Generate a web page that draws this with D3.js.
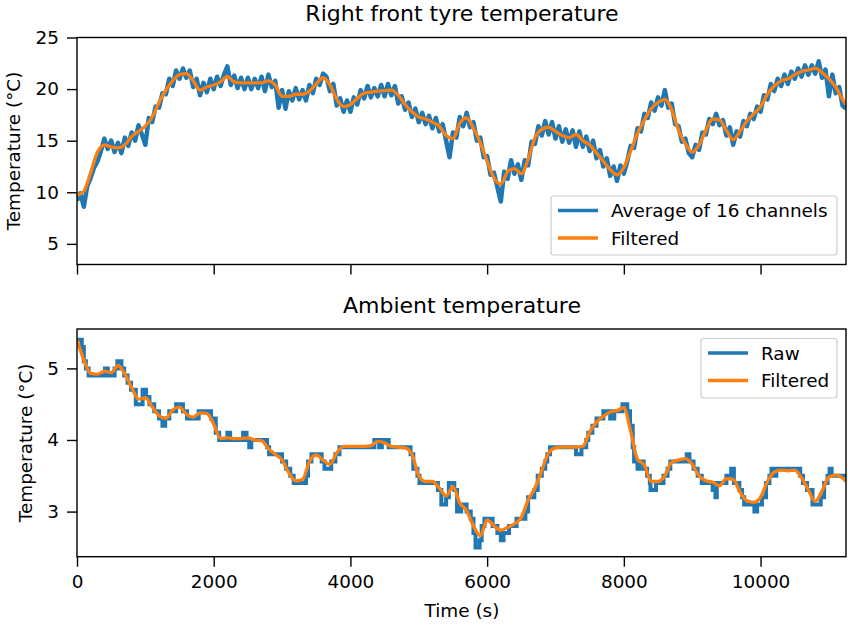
<!DOCTYPE html>
<html>
<head>
<meta charset="utf-8">
<script src="https://cdn.jsdelivr.net/npm/d3@7/dist/d3.min.js"></script>
<style>
  body { margin: 0; background: #fff; }
  text { font-family: "DejaVu Sans", sans-serif; fill: #000; }
</style>
</head>
<body>
<svg id="chart" width="848" height="627"></svg>
<script>
// tyre: raw average sampled every 50 s, filtered every 100 s (+ last point)
var tyreRaw = [
  9.2, 9.9, 8.6, 10.6, 11.4, 12.4, 13.0, 14.0, 15.2, 14.2,
  15.0, 13.9, 14.8, 13.8, 15.3, 14.5, 15.8, 15.0, 16.5, 15.6,
  14.6, 17.2, 16.8, 18.3, 18.2, 19.6, 19.5, 21.0, 20.3, 21.8,
  21.0, 22.0, 21.1, 21.8, 20.2, 21.0, 19.4, 20.6, 19.7, 21.0,
  20.0, 21.2, 20.3, 21.4, 22.2, 20.4, 21.3, 20.1, 21.1, 20.0,
  21.1, 20.0, 21.0, 20.1, 21.2, 19.8, 21.4, 20.2, 20.8, 18.2,
  19.9, 18.1, 19.8, 18.9, 20.1, 19.0, 19.9, 18.9, 20.4, 19.6,
  21.0, 20.4, 21.5, 21.2, 19.8, 20.5, 18.4, 19.1, 17.8, 18.9,
  17.8, 19.2, 18.5, 19.9, 19.1, 20.3, 19.2, 20.1, 19.3, 20.4,
  19.3, 20.5, 19.4, 20.3, 18.6, 19.3, 18.0, 18.7, 17.3, 18.1,
  16.8, 17.7, 16.6, 17.4, 16.2, 17.2, 15.9, 16.6, 15.0, 13.4,
  15.8, 15.3, 17.3, 16.4, 17.7, 16.3, 16.8, 15.0, 15.3, 13.4,
  13.5, 11.7, 11.9, 10.5, 9.1, 12.0, 11.3, 13.1, 11.8, 12.7,
  11.2, 13.1, 12.6, 14.9, 14.7, 16.4, 15.5, 16.9, 15.6, 16.8,
  15.2, 16.4, 14.9, 16.1, 14.8, 16.0, 14.4, 15.9, 14.4, 15.4,
  14.0, 15.0, 13.3, 14.1, 12.5, 13.3, 11.6, 12.5, 11.1, 12.6,
  11.8, 13.0, 14.5, 14.3, 16.2, 15.9, 17.6, 17.2, 18.7, 17.9,
  19.2, 18.4, 19.9, 18.2, 18.6, 16.6, 16.4, 14.9, 15.2, 13.8,
  13.4, 14.6, 14.1, 15.8, 15.6, 17.1, 16.6, 17.6, 16.5, 17.0,
  15.5, 16.3, 14.6, 15.9, 15.4, 16.9, 16.4, 17.6, 17.1, 18.3,
  17.8, 19.4, 19.0, 20.5, 19.8, 21.0, 20.3, 21.4, 20.5, 21.7,
  21.0, 22.0, 21.2, 22.3, 21.4, 22.3, 21.5, 22.7, 21.1, 21.9,
  19.3, 21.4, 19.6, 20.2, 18.4, 18.1
];
var tyreFilt = [
  9.7, 10.1, 11.9, 13.9, 14.6, 14.4, 14.3, 14.6, 15.4, 15.9,
  16.4, 17.3, 18.7, 19.9, 20.8, 21.4, 21.5, 20.8, 19.9, 20.2,
  20.4, 20.7, 21.2, 20.7, 20.6, 20.6, 20.6, 20.6, 20.8, 20.4,
  19.3, 19.3, 19.5, 19.5, 19.8, 20.5, 21.1, 20.4, 19.0, 18.3,
  18.5, 19.1, 19.6, 19.7, 19.8, 19.85, 19.9, 19.4, 18.5, 17.8,
  17.3, 17.1, 16.8, 16.4, 15.5, 15.2, 16.7, 17.2, 16.2, 14.8,
  13.0, 11.4, 10.8, 12.0, 12.3, 11.8, 13.2, 15.3, 16.1, 16.3,
  15.9, 15.5, 15.3, 15.6, 15.0, 14.6, 13.8, 13.0, 12.2, 11.7,
  12.4, 14.0, 15.7, 17.0, 18.1, 18.7, 19.0, 18.0, 16.0, 14.7,
  13.9, 14.6, 16.0, 17.1, 17.0, 16.0, 15.1, 15.9, 16.9, 17.6,
  18.3, 19.5, 20.3, 20.8, 21.0, 21.4, 21.7, 21.85, 22.0, 21.6,
  21.0, 20.2, 19.0, 18.5
];

// ambient: raw as change points (0.1 °C steps), filtered every 100 s (+ last point)
var ambRawTimes = [
  0, 70, 100, 130, 170, 410, 450, 550, 590, 650, 690, 740, 790, 860, 960, 1010,
  1060, 1130, 1200, 1250, 1290, 1350, 1450, 1550, 1610, 1780, 1960, 2030, 2080,
  2200, 2240, 2430, 2480, 2520, 2550, 2780, 2810, 3000, 3060, 3120, 3170, 3350,
  3380, 3430, 3580, 3620, 3720, 3780, 3840, 4350, 4420, 4460, 4560, 4880, 4920,
  4980, 5010, 5280, 5330, 5400, 5440, 5520, 5560, 5620, 5700, 5760, 5800, 5830,
  5890, 5920, 5960, 6080, 6150, 6200, 6240, 6320, 6430, 6560, 6600, 6690, 6740,
  6800, 6850, 6880, 6920, 7300, 7380, 7450, 7480, 7540, 7600, 7700, 7800, 7860,
  7980, 8050, 8090, 8130, 8150, 8200, 8230, 8290, 8340, 8380, 8390, 8470, 8580,
  8640, 8680, 8920, 8960, 9020, 9080, 9140, 9300, 9340, 9360, 9500, 9570, 9610,
  9690, 9730, 9760, 9910, 9950, 10020, 10080, 10130, 10160, 10200, 10230, 10580,
  10620, 10680, 10760, 10880, 10930, 10980, 11010, 11040, 11250
];
var ambRawValues = [
  5.4, 5.3, 5.1, 5.0, 4.9, 5.0, 4.9, 5.0, 5.1, 5.0, 4.9, 4.8, 4.7, 4.5, 4.7, 4.6,
  4.5, 4.4, 4.3, 4.2, 4.3, 4.4, 4.5, 4.4, 4.3, 4.4, 4.3, 4.1, 4.0,
  4.1, 4.0, 4.1, 4.0, 3.9, 4.0, 3.9, 3.8, 3.7, 3.6, 3.5, 3.4, 3.5,
  3.7, 3.8, 3.7, 3.6, 3.7, 3.8, 3.9, 4.0, 3.9, 4.0, 3.9, 3.8, 3.6,
  3.5, 3.4, 3.3, 3.1, 3.2, 3.4, 3.3, 3.0, 3.1, 3.0, 2.9, 2.7, 2.5,
  2.6, 2.8, 2.9, 2.8, 2.7, 2.6, 2.7, 2.8, 2.9, 3.0, 3.2, 3.3, 3.5,
  3.6, 3.7, 3.8, 3.9, 3.8, 3.9, 4.0, 4.1, 4.2, 4.3, 4.4, 4.3, 4.4,
  4.5, 4.4, 4.2, 3.9, 3.7, 3.6, 3.7, 3.6, 3.5, 3.4, 3.3, 3.4, 3.5,
  3.6, 3.7, 3.8, 3.7, 3.6, 3.5, 3.4, 3.3, 3.2, 3.4, 3.5, 3.6, 3.4,
  3.3, 3.2, 3.1, 3.0, 3.1, 3.2, 3.4, 3.5, 3.6, 3.5, 3.6, 3.5,
  3.4, 3.3, 3.1, 3.2, 3.4, 3.5, 3.6, 3.5, 3.5
];
var ambFilt = [
  5.40, 5.12, 4.93, 4.92, 4.96, 4.94, 5.04, 4.92, 4.73, 4.57,
  4.59, 4.46, 4.34, 4.30, 4.42, 4.46, 4.36, 4.32, 4.38, 4.37,
  4.22, 4.02, 4.03, 4.02, 4.02, 4.03, 4.00, 3.99, 3.88, 3.80,
  3.72, 3.54, 3.43, 3.45, 3.70, 3.79, 3.72, 3.66, 3.82, 3.91,
  3.91, 3.91, 3.91, 3.92, 3.98, 3.96, 3.91, 3.90, 3.89, 3.80,
  3.50, 3.42, 3.42, 3.33, 3.22, 3.35, 3.12, 3.01, 2.80, 2.66,
  2.88, 2.80, 2.74, 2.78, 2.83, 2.92, 3.16, 3.33, 3.58, 3.82,
  3.89, 3.90, 3.90, 3.90, 3.91, 4.11, 4.25, 4.33, 4.39, 4.41,
  4.45, 4.12, 3.73, 3.65, 3.42, 3.42, 3.50, 3.69, 3.72, 3.74,
  3.66, 3.50, 3.43, 3.41, 3.36, 3.46, 3.45, 3.27, 3.15, 3.13,
  3.20, 3.42, 3.55, 3.58, 3.57, 3.58, 3.47, 3.30, 3.14, 3.29,
  3.48, 3.51, 3.47, 3.42
];

var xTicks = [0, 2000, 4000, 6000, 8000, 10000];
var tyreTicks = [5, 10, 15, 20, 25];
var ambTicks = [3, 4, 5];

var blue = "#1f77b4", orange = "#ff7f0e";
var fontSize = 18.4, titleSize = 22;

var svg = d3.select("#chart");

var x = d3.scaleLinear().domain([0, 11250]).range([77, 846]);
var filtTimes = d3.range(0, 11201, 100).concat([11250]);
var rawTimes = d3.range(0, 11251, 50);

var panels = [
  {top: 37.5, bottom: 264.5, domain: [3, 25], ticks: tyreTicks, title: "Right front tyre temperature",
   titleY: 21, labelX: 20, xLabels: false},
  {top: 329, bottom: 556.7, domain: [2.37, 5.55], ticks: ambTicks, title: "Ambient temperature",
   titleY: 313, labelX: 32, xLabels: true}
];

panels.forEach(function (p, i) {
  var y = d3.scaleLinear().domain(p.domain).range([p.bottom, p.top]);
  p.y = y;
  var g = svg.append("g");

  svg.append("clipPath").attr("id", "clip" + i)
    .append("rect")
    .attr("x", x.range()[0]).attr("y", p.top)
    .attr("width", x.range()[1] - x.range()[0])
    .attr("height", p.bottom - p.top);

  var plot = g.append("g").attr("clip-path", "url(#clip" + i + ")");
  p.plot = plot;

  // axes
  var xa = g.append("g")
    .attr("transform", "translate(0," + p.bottom + ")")
    .call(d3.axisBottom(x).tickValues(xTicks).tickSize(10).tickPadding(8)
      .tickFormat(p.xLabels ? d3.format("d") : ""));
  var ya = g.append("g")
    .attr("transform", "translate(" + x.range()[0] + ",0)")
    .call(d3.axisLeft(y).tickValues(p.ticks).tickSize(10).tickPadding(8).tickFormat(d3.format("d")));
  [xa, ya].forEach(function (a) {
    a.select(".domain").remove();
    a.selectAll(".tick line").attr("stroke", "#000").attr("stroke-width", 1.4);
    a.selectAll(".tick text").attr("font-size", fontSize).attr("font-family", "DejaVu Sans").attr("fill", "#000");
  });

  g.append("rect")
    .attr("x", x.range()[0]).attr("y", p.top)
    .attr("width", x.range()[1] - x.range()[0])
    .attr("height", p.bottom - p.top)
    .attr("fill", "none").attr("stroke", "#000").attr("stroke-width", 1.4);

  g.append("text")
    .attr("x", 462).attr("y", p.titleY)
    .attr("text-anchor", "middle").attr("font-size", titleSize)
    .text(p.title);

  g.append("text")
    .attr("transform", "translate(" + p.labelX + "," + (p.top + p.bottom) / 2 + ") rotate(-90)")
    .attr("text-anchor", "middle").attr("font-size", fontSize)
    .text("Temperature (°C)");
});

svg.append("text")
  .attr("x", 462).attr("y", 617)
  .attr("text-anchor", "middle").attr("font-size", fontSize)
  .text("Time (s)");

// top panel lines
var yT = panels[0].y;
panels[0].plot.append("path")
  .datum(tyreRaw)
  .attr("fill", "none").attr("stroke", blue).attr("stroke-width", 4.5)
  .attr("stroke-linejoin", "round")
  .attr("d", d3.line()
    .x(function (d, i) { return x(rawTimes[i]); })
    .y(function (d) { return yT(d); }));
panels[0].plot.append("path")
  .datum(tyreFilt)
  .attr("fill", "none").attr("stroke", orange).attr("stroke-width", 3.3)
  .attr("stroke-linejoin", "round")
  .attr("d", d3.line().curve(d3.curveMonotoneX)
    .x(function (d, i) { return x(filtTimes[i]); })
    .y(function (d) { return yT(d); }));

// bottom panel lines
var yA = panels[1].y;
panels[1].plot.append("path")
  .datum(ambRawValues)
  .attr("fill", "none").attr("stroke", blue).attr("stroke-width", 4)
  .attr("d", d3.line().curve(d3.curveStepAfter)
    .x(function (d, i) { return x(ambRawTimes[i]); })
    .y(function (d) { return yA(d); }));
panels[1].plot.append("path")
  .datum(ambFilt)
  .attr("fill", "none").attr("stroke", orange).attr("stroke-width", 3.3)
  .attr("stroke-linejoin", "round")
  .attr("d", d3.line().curve(d3.curveMonotoneX)
    .x(function (d, i) { return x(filtTimes[i]); })
    .y(function (d) { return yA(d); }));

// legends
function legend(x0, y0, w, h, labels) {
  var lg = svg.append("g");
  lg.append("rect")
    .attr("x", x0).attr("y", y0).attr("width", w).attr("height", h)
    .attr("rx", 3).attr("fill", "#fff").attr("fill-opacity", 0.8)
    .attr("stroke", "#cccccc").attr("stroke-width", 1.2);
  labels.forEach(function (l, i) {
    var ly = y0 + 14.5 + i * 27.5;
    lg.append("line")
      .attr("x1", x0 + 7).attr("x2", x0 + 47)
      .attr("y1", ly).attr("y2", ly)
      .attr("stroke", l.color).attr("stroke-width", 3.3);
    lg.append("text")
      .attr("x", x0 + 60).attr("y", ly + 6.8)
      .attr("font-size", fontSize)
      .text(l.name);
  });
}
legend(551, 196, 286, 59, [{name: "Average of 16 channels", color: blue}, {name: "Filtered", color: orange}]);
legend(701, 338.5, 136, 59.5, [{name: "Raw", color: blue}, {name: "Filtered", color: orange}]);
</script>
</body>
</html>
